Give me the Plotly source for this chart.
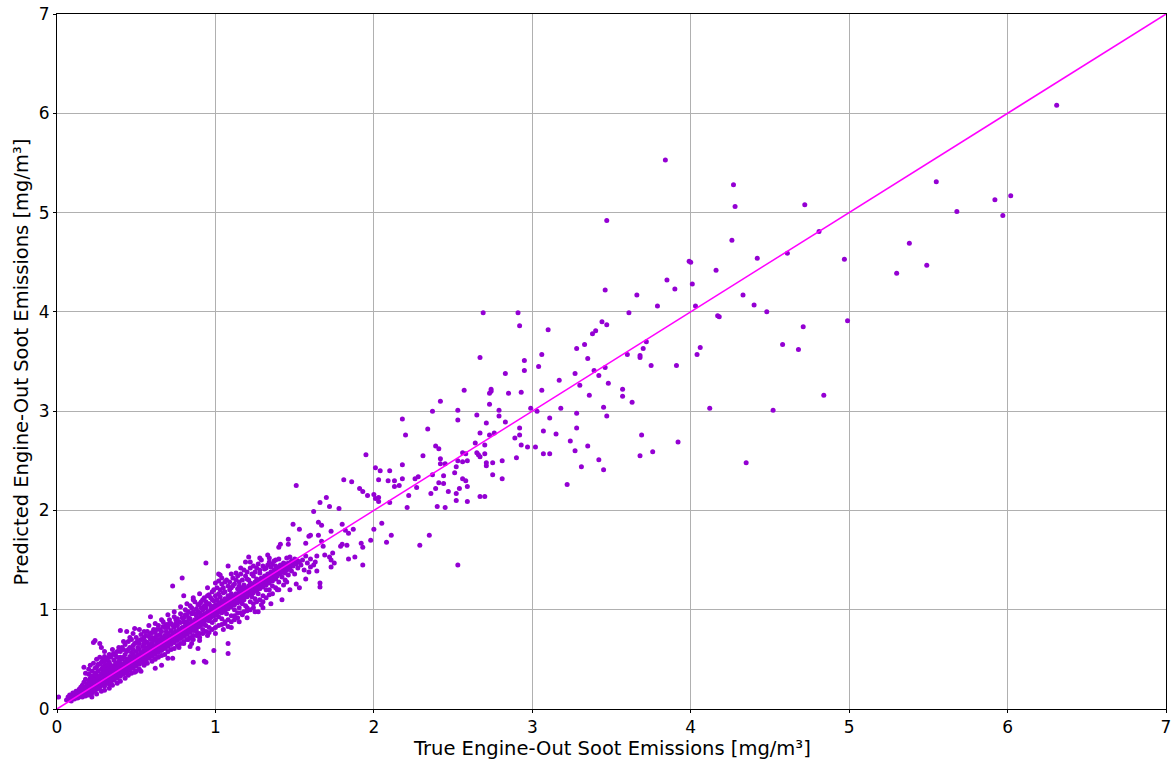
import plotly.graph_objects as go

# (true, predicted) soot emissions [mg/m3]
pts_tip = [(0.01,0.12),(0.06,0.09),(0.07,0.12),(0.08,0.10),(0.08,0.14),(0.09,0.08),(0.10,0.12),(0.10,0.16),(0.11,0.10),(0.11,0.14),(0.12,0.13),(0.12,0.18),(0.13,0.11),(0.13,0.15),(0.14,0.12),(0.14,0.17),(0.14,0.20),(0.15,0.13),(0.15,0.16),(0.15,0.22),
 (0.16,0.12),(0.16,0.18),(0.16,0.24),(0.17,0.14),(0.17,0.20),(0.17,0.27),(0.17,0.42),(0.18,0.13),(0.18,0.16),(0.18,0.22),(0.18,0.30),(0.19,0.15),(0.19,0.19),(0.19,0.25),(0.20,0.14),(0.20,0.18),(0.20,0.23),(0.20,0.28),(0.20,0.35),(0.21,0.17),(0.21,0.21),(0.21,0.26),(0.21,0.31),(0.22,0.16),(0.22,0.20),(0.22,0.24),(0.22,0.29),(0.22,0.38),(0.23,0.18),(0.23,0.22),(0.23,0.27),(0.23,0.33),(0.23,0.67),(0.24,0.19),(0.24,0.25),(0.24,0.30),(0.24,0.36),(0.24,0.69),(0.25,0.20),(0.25,0.23),(0.25,0.28),(0.25,0.34),(0.25,0.42),(0.26,0.21),(0.26,0.26),(0.26,0.31),(0.26,0.38),(0.27,0.22),(0.27,0.27),(0.27,0.33),(0.27,0.45),(0.27,0.66),(0.28,0.24),(0.28,0.29),(0.28,0.35),(0.28,0.40),(0.28,0.62),(0.29,0.25),(0.29,0.30),(0.29,0.37),(0.29,0.50),(0.30,0.23),(0.30,0.28),(0.30,0.33),(0.30,0.39),(0.30,0.44),(0.30,0.58)]

pts_low = [(0.31,0.26),(0.31,0.31),(0.31,0.36),(0.31,0.42),(0.32,0.27),(0.32,0.32),(0.32,0.38),(0.32,0.51),(0.33,0.25),(0.33,0.30),(0.33,0.35),(0.33,0.41),(0.33,0.47),(0.34,0.28),(0.34,0.33),(0.34,0.39),(0.34,0.44),(0.35,0.30),(0.35,0.36),(0.35,0.40),(0.35,0.55),(0.36,0.29),(0.36,0.34),(0.36,0.38),(0.36,0.43),(0.36,0.49),(0.37,0.32),(0.37,0.37),(0.37,0.42),(0.37,0.46),(0.38,0.31),(0.38,0.35),(0.38,0.40),(0.38,0.45),(0.38,0.52),(0.39,0.34),(0.39,0.38),(0.39,0.43),(0.39,0.48),(0.40,0.33),(0.40,0.37),(0.40,0.41),(0.40,0.46),(0.40,0.58),(0.40,0.79),(0.41,0.36),(0.41,0.40),(0.41,0.44),(0.41,0.50),(0.42,0.35),(0.42,0.39),(0.42,0.45),(0.42,0.52),(0.43,0.38),(0.43,0.42),(0.43,0.47),(0.43,0.55),(0.44,0.37),(0.44,0.41),(0.44,0.46),(0.44,0.50),(0.44,0.78),(0.45,0.40),(0.45,0.44),(0.45,0.49),(0.45,0.60),(0.46,0.39),(0.46,0.43),(0.46,0.48),(0.46,0.53),(0.47,0.42),(0.47,0.46),(0.47,0.51),(0.47,0.57),(0.48,0.41),(0.48,0.45),(0.48,0.50),(0.48,0.55),(0.48,0.64),(0.49,0.44),(0.49,0.48),(0.49,0.53),(0.49,0.81),(0.50,0.43),(0.50,0.47),(0.50,0.52),(0.50,0.58),(0.50,0.67),
 (0.51,0.46),(0.51,0.50),(0.51,0.55),(0.51,0.62),(0.52,0.45),(0.52,0.49),(0.52,0.54),(0.52,0.60),(0.53,0.38),(0.53,0.48),(0.53,0.52),(0.53,0.57),(0.53,0.70),(0.54,0.47),(0.54,0.51),(0.54,0.56),(0.54,0.63),(0.55,0.50),(0.55,0.54),(0.55,0.59),(0.55,0.66),(0.56,0.49),(0.56,0.53),(0.56,0.58),(0.56,0.62),(0.56,0.74),(0.57,0.52),(0.57,0.56),(0.57,0.61),(0.57,0.67),(0.58,0.51),(0.58,0.55),(0.58,0.60),(0.58,0.65),(0.59,0.54),(0.59,0.58),(0.59,0.63),(0.59,0.70),(0.59,0.93),(0.60,0.53),(0.60,0.57),(0.60,0.62),(0.60,0.66),(0.60,0.77),(0.61,0.56),(0.61,0.60),(0.61,0.64),(0.61,0.69),(0.62,0.41),(0.62,0.55),(0.62,0.59),(0.62,0.63),(0.62,0.72),(0.63,0.58),(0.63,0.62),(0.63,0.67),(0.63,0.80),(0.64,0.57),(0.64,0.61),(0.64,0.65),(0.64,0.70),(0.65,0.60),(0.65,0.64),(0.65,0.68),(0.65,0.75),(0.66,0.44),(0.66,0.59),(0.66,0.63),(0.66,0.67),(0.66,0.72),(0.67,0.62),(0.67,0.66),(0.67,0.71),(0.67,0.83),(0.68,0.61),(0.68,0.65),(0.68,0.69),(0.68,0.74),(0.69,0.64),(0.69,0.68),(0.69,0.73),(0.69,0.78),(0.70,0.51),(0.70,0.63),(0.70,0.67),(0.70,0.71),(0.70,0.76),(0.71,0.66),(0.71,0.70),(0.71,0.74),(0.71,0.86),(0.72,0.65),(0.72,0.69),(0.72,0.73),(0.72,0.79),(0.73,0.51),(0.73,0.68),(0.73,0.72),(0.73,0.77),(0.73,1.24),(0.74,0.67),(0.74,0.71),(0.74,0.75),(0.74,0.82),(0.75,0.70),(0.75,0.74),(0.75,0.78),(0.75,0.90)]

pts_mid = [(0.76,0.69),(0.76,0.73),(0.76,0.77),(0.76,0.84),(0.77,0.62),(0.77,0.72),(0.77,0.76),(0.77,0.80),(0.78,0.71),(0.78,0.75),(0.78,0.79),(0.78,0.87),(0.79,0.74),(0.79,0.78),(0.79,0.82),(0.79,1.32),(0.80,0.66),(0.80,0.73),(0.80,0.77),(0.80,0.81),(0.80,0.92),(0.80,1.14),(0.81,0.76),(0.81,0.80),(0.81,0.84),(0.81,0.95),(0.82,0.75),(0.82,0.79),(0.82,0.83),(0.82,0.88),(0.83,0.70),(0.83,0.78),(0.83,0.82),(0.83,0.86),(0.83,0.98),(0.84,0.63),(0.84,0.77),(0.84,0.81),(0.84,0.85),(0.84,0.91),(0.85,0.80),(0.85,0.84),(0.85,0.88),(0.85,1.02),(0.86,0.47),(0.86,0.74),(0.86,0.79),(0.86,0.83),(0.86,0.87),(0.86,1.10),(0.87,0.82),(0.87,0.86),(0.87,0.90),(0.87,0.96),(0.88,0.78),(0.88,0.81),(0.88,0.85),(0.88,0.89),(0.88,0.94),(0.89,0.61),(0.89,0.84),(0.89,0.88),(0.89,0.92),(0.89,1.05),(0.90,0.76),(0.90,0.83),(0.90,0.87),(0.90,0.91),(0.90,0.97),(0.91,0.86),(0.91,0.90),(0.91,0.94),(0.91,1.08),(0.92,0.80),(0.92,0.85),(0.92,0.89),(0.92,0.93),(0.92,1.00),(0.93,0.48),(0.93,0.88),(0.93,0.92),(0.93,0.96),(0.93,1.12),(0.94,0.47),(0.94,0.84),(0.94,0.91),(0.94,0.95),(0.94,1.02),(0.94,1.47),(0.95,0.90),(0.95,0.94),(0.95,0.98),(0.95,1.06),(0.96,0.82),(0.96,0.89),(0.96,0.93),(0.96,0.97),(0.96,1.15),(0.97,0.92),(0.97,0.96),(0.97,1.00),(0.97,1.04),(0.98,0.87),(0.98,0.95),(0.98,0.99),(0.98,1.03),(0.98,1.10),(0.99,0.59),(0.99,0.94),(0.99,0.98),(0.99,1.02),(0.99,1.20),(1.00,0.90),(1.00,0.97),(1.00,1.01),(1.00,1.05),
 (1.01,0.95),(1.01,1.00),(1.01,1.04),(1.01,1.10),(1.02,0.93),(1.02,0.99),(1.02,1.03),(1.02,1.07),(1.02,1.29),(1.02,1.36),(1.03,0.98),(1.03,1.02),(1.03,1.06),(1.03,1.13),(1.03,1.35),(1.04,0.91),(1.04,0.97),(1.04,1.01),(1.04,1.05),(1.04,1.09),(1.05,1.00),(1.05,1.04),(1.05,1.08),(1.05,1.17),(1.06,0.86),(1.06,0.99),(1.06,1.03),(1.06,1.07),(1.06,1.11),(1.06,1.28),(1.07,0.96),(1.07,1.02),(1.07,1.06),(1.07,1.10),(1.08,0.56),(1.08,0.66),(1.08,0.83),(1.08,1.01),(1.08,1.05),(1.08,1.09),(1.08,1.14),(1.08,1.44),(1.09,1.04),(1.09,1.08),(1.09,1.12),(1.09,1.20),(1.10,0.94),(1.10,1.03),(1.10,1.07),(1.10,1.11),(1.10,1.16),(1.11,1.06),(1.11,1.10),(1.11,1.14),(1.11,1.24),(1.12,0.90),(1.12,1.00),(1.12,1.05),(1.12,1.09),(1.12,1.13),(1.13,1.08),(1.13,1.12),(1.13,1.16),(1.13,1.37),(1.14,0.97),(1.14,1.07),(1.14,1.11),(1.14,1.15),(1.14,1.21),(1.15,1.02),(1.15,1.10),(1.15,1.14),(1.15,1.18),(1.15,1.28),(1.16,1.09),(1.16,1.13),(1.16,1.17),(1.16,1.22),(1.17,0.95),(1.17,1.06),(1.17,1.12),(1.17,1.16),(1.17,1.20),(1.18,1.10),(1.18,1.15),(1.18,1.19),(1.18,1.25),(1.19,1.04),(1.19,1.14),(1.19,1.18),(1.19,1.22),(1.19,1.48),(1.20,0.99),(1.20,1.13),(1.20,1.17),(1.20,1.21),(1.20,1.31),(1.21,1.16),(1.21,1.20),(1.21,1.24),(1.21,1.53),(1.22,1.08),(1.22,1.15),(1.22,1.19),(1.22,1.23),(1.22,1.27),(1.23,1.13),(1.23,1.18),(1.23,1.22),(1.23,1.26),(1.24,1.02),(1.24,1.17),(1.24,1.21),(1.24,1.25),(1.24,1.34),(1.25,1.11),(1.25,1.20),(1.25,1.24),(1.25,1.28),(1.26,1.19),(1.26,1.23),(1.26,1.27),(1.26,1.31),(1.27,0.98),(1.27,1.16),(1.27,1.22),(1.27,1.26),(1.27,1.30),(1.28,1.21),(1.28,1.25),(1.28,1.29),(1.28,1.37),(1.29,1.05),(1.29,1.24),(1.29,1.28),(1.29,1.32),(1.29,1.50),(1.30,1.14),(1.30,1.23),(1.30,1.27),(1.30,1.31)]

pts_spread = [(0.18,0.36),(0.20,0.40),(0.21,0.44),(0.22,0.33),(0.23,0.46),(0.24,0.41),(0.25,0.50),(0.26,0.45),(0.27,0.52),(0.28,0.47),(0.29,0.42),(0.30,0.53),(0.31,0.50),(0.33,0.55),(0.35,0.60),(0.37,0.54),(0.39,0.62),(0.42,0.68),(0.46,0.72),(0.48,0.76),(0.52,0.80),(0.55,0.78),(0.58,0.84),(0.62,0.86),(0.66,0.90),(0.70,0.95),(0.74,0.98),(0.78,1.03),(0.82,1.06),(0.86,1.12),(0.90,1.16),(0.95,1.22),(1.00,1.27),(1.04,1.32),(1.10,1.36),(1.16,1.42),(1.22,1.48),(1.28,1.52),(1.33,1.55),
 (0.30,0.48),(0.32,0.45),(0.34,0.52),(0.36,0.56),(0.38,0.58),(0.40,0.52),(0.41,0.62),(0.42,0.60),(0.43,0.65),(0.44,0.58),(0.45,0.68),(0.46,0.62),(0.47,0.70),(0.48,0.60),(0.49,0.66),(0.50,0.72),(0.51,0.69),(0.52,0.66),(0.53,0.75),(0.54,0.70),(0.55,0.72),(0.56,0.68),(0.57,0.78),(0.58,0.73),(0.59,0.76),(0.60,0.72),(0.61,0.80),(0.62,0.77),(0.63,0.74),(0.64,0.84),(0.65,0.80),(0.66,0.78),(0.67,0.88),(0.68,0.82),(0.69,0.85),(0.70,0.82),(0.71,0.90),(0.72,0.86),(0.73,0.84),(0.74,0.93),(0.75,0.86),(0.76,0.91),(0.77,0.88),(0.78,0.96),(0.79,0.92),(0.80,0.88),(0.81,1.00),(0.82,0.95),(0.83,0.92),(0.84,1.04),(0.85,0.96),(0.86,0.98),(0.87,1.08),(0.88,1.01),(0.89,0.98),(0.90,1.06),(0.91,1.02),(0.92,1.10),(0.93,1.04),(0.94,1.08),(0.95,1.14),(0.96,1.06),(0.97,1.12),(0.98,1.18),(0.99,1.09),(1.00,1.14),(1.01,1.22),(1.02,1.16),(1.03,1.20),(1.04,1.26),(1.05,1.22),(1.06,1.18),(1.07,1.30),(1.08,1.24),(1.09,1.28),(1.10,1.22),(1.11,1.32),(1.12,1.26),(1.13,1.30),(1.14,1.34),(1.15,1.24),(1.16,1.36),(1.17,1.30),(1.18,1.40),(1.19,1.34),(1.20,1.38),(1.21,1.30),(1.22,1.42),(1.23,1.36),(1.24,1.44),(1.25,1.38),(1.26,1.42),(1.27,1.46),(1.28,1.40),(1.30,1.44),(1.32,1.42),(1.34,1.52),(1.36,1.46),(1.38,1.50),
 (0.22,0.12),(0.25,0.15),(0.28,0.18),(0.30,0.19),(0.33,0.21),(0.35,0.24),(0.38,0.26),(0.40,0.28),(0.43,0.31),(0.45,0.34),(0.47,0.36),(0.49,0.37),
 (0.50,0.38),(0.52,0.40),(0.55,0.44),(0.57,0.46),(0.60,0.48),(0.62,0.50),(0.64,0.52),(0.66,0.54),(0.68,0.55),(0.70,0.58),(0.72,0.60),(0.74,0.61),(0.76,0.64),(0.78,0.66),(0.80,0.68),(0.82,0.70),(0.84,0.72),(0.86,0.70),(0.88,0.74),(0.90,0.72),(0.92,0.76),(0.94,0.78),(0.96,0.77),(0.98,0.80),(1.00,0.82),(1.02,0.84),(1.04,0.85),(1.06,0.88),(1.08,0.90),(1.10,0.88),(1.12,0.94),(1.14,0.92),(1.16,0.97),(1.18,0.98),(1.20,1.02),(1.22,1.00),(1.24,1.06),(1.26,1.08),(1.28,1.10),(1.30,1.08),(1.32,1.12),(1.34,1.20),(1.36,1.16),(1.38,1.22),(1.40,1.20),(1.43,1.25),(1.45,1.28),
 (0.85,0.66),(0.90,0.69),(0.95,0.74),(1.00,0.76),(1.05,0.80),(1.10,0.82),(1.15,0.88),(1.20,0.92),(1.25,0.98),(1.30,1.02),(1.35,1.06)]

pts_upper = [(1.31,1.26),(1.31,1.30),(1.31,1.34),(1.31,1.41),(1.32,1.20),(1.32,1.25),(1.32,1.29),(1.32,1.33),(1.33,1.28),(1.33,1.32),(1.33,1.36),(1.33,1.45),(1.34,1.15),(1.34,1.27),(1.34,1.31),(1.34,1.35),(1.34,1.48),(1.35,1.30),(1.35,1.34),(1.35,1.38),(1.35,1.43),(1.36,1.24),(1.36,1.29),(1.36,1.33),(1.36,1.37),(1.37,1.32),(1.37,1.36),(1.37,1.40),(1.37,1.49),(1.38,1.31),(1.38,1.35),(1.38,1.39),(1.38,1.44),(1.39,1.20),(1.39,1.34),(1.39,1.38),(1.39,1.42),(1.40,1.28),(1.40,1.37),(1.40,1.41),(1.40,1.51),(1.40,1.63),(1.41,1.36),(1.41,1.40),(1.41,1.45),(1.41,1.66),(1.42,1.10),(1.42,1.33),(1.42,1.39),(1.42,1.43),(1.43,1.38),(1.43,1.42),(1.43,1.47),(1.44,1.30),(1.44,1.37),(1.44,1.41),(1.44,1.46),(1.45,1.40),(1.45,1.44),(1.45,1.52),(1.46,1.35),(1.46,1.43),(1.46,1.47),(1.46,1.66),(1.46,1.71),(1.47,1.20),(1.47,1.42),(1.47,1.46),(1.47,1.53),(1.48,1.39),(1.48,1.45),(1.48,1.49),(1.49,1.44),(1.49,1.48),(1.49,1.86),(1.50,1.36),(1.50,1.47),(1.50,1.51),(1.51,2.25),(1.51,1.46),(1.51,1.50),(1.51,1.26),(1.52,1.42),(1.52,1.49),(1.53,1.22),(1.53,1.48),(1.53,1.81),(1.54,1.45),(1.55,1.50),(1.56,1.40),(1.57,1.54),(1.57,1.67),(1.57,1.31),(1.58,1.47),(1.59,1.74),(1.59,1.38),(1.60,1.43),(1.60,1.51),(1.60,1.75),(1.62,1.45),(1.62,1.99),(1.63,1.48),(1.64,1.39),(1.64,1.54),(1.65,1.75),(1.65,1.88),(1.66,1.27),(1.66,1.23),(1.67,1.85),(1.67,1.69),(1.68,1.64),(1.69,1.55),(1.70,2.13),(1.66,2.08),(1.72,2.04),(1.72,1.53),(1.73,1.79),(1.73,1.50),(1.73,1.43),(1.74,1.57),(1.75,1.47),(1.78,2.02),(1.79,1.64),(1.80,1.86),(1.80,1.66),(1.81,2.31),(1.82,1.80),(1.83,1.65),(1.84,1.77),(1.84,1.51),(1.86,2.29),(1.87,1.81),(1.88,1.53),(1.91,2.22),(1.92,1.67),(1.93,2.19),(1.93,1.63),(1.93,1.45),(1.95,2.56),(1.96,2.15),(1.98,1.70),(2.00,1.81),(2.00,2.16),(2.01,2.12),(2.03,2.13),(2.03,2.09),(2.05,1.87),(2.08,1.68),(2.10,2.08),(2.11,1.75),(2.21,2.03),(2.29,1.65),(2.35,1.75),(2.53,1.45)]

pts_high = [(2.01,2.43),(2.04,2.40),(2.10,2.40),(2.03,2.31),(2.09,2.30),(2.13,2.30),(2.18,2.32),(2.26,2.32),(2.28,2.34),(2.13,2.24),(2.16,2.25),(2.27,2.23),(2.39,2.22),(2.54,2.22),(2.41,2.28),(2.44,2.27),(2.56,2.32),(2.58,2.30),(2.59,2.24),(2.81,2.32),(3.22,2.26),(2.36,2.17),(2.47,2.19),(2.40,2.04),(2.45,2.03),(2.52,2.10),(2.52,2.17),(2.59,2.09),(2.67,2.14),(2.70,2.14),(2.22,2.15),
 (2.37,2.36),(2.44,2.35),(2.51,2.38),(2.52,2.44),(2.75,2.36),(3.31,2.44),(3.45,2.41),(2.18,2.46),(2.42,2.47),(2.45,2.47),(2.71,2.48),(2.71,2.45),(2.75,2.48),(3.42,2.51),(4.35,2.48),(2.53,2.50),(2.56,2.49),(2.59,2.50),(2.81,2.50),(2.42,2.52),(2.90,2.53),(2.31,2.55),(2.56,2.58),(2.58,2.57),(2.65,2.58),(2.66,2.56),(2.67,2.54),(2.70,2.57),(3.07,2.57),(3.11,2.57),(3.68,2.55),(3.76,2.59),(3.27,2.60),(2.39,2.65),(2.41,2.62),(2.64,2.68),(2.70,2.66),(2.93,2.66),(2.97,2.64),(3.02,2.64),(3.35,2.65),(3.92,2.69),(3.24,2.70),(2.89,2.73),(2.20,2.76),(2.67,2.78),(2.73,2.76),(2.76,2.78),(2.92,2.76),(3.07,2.80),(3.15,2.77),(3.69,2.76),(2.34,2.82),(2.92,2.83),(3.28,2.83),(2.18,2.92),(2.53,2.91),(2.71,2.88),(2.83,2.89),(3.11,2.93),(2.65,2.96),(2.79,2.95),(2.79,3.01),(3.28,2.98),(3.47,2.95),(2.37,3.00),(2.53,3.01),(2.99,3.03),(3.03,3.00),(3.18,3.03),(3.45,3.04),(4.12,3.03),(4.52,3.01),(2.42,3.10),(2.73,3.07),(3.63,3.09),(3.36,3.16),(3.57,3.15),(4.84,3.16),(2.57,3.21),(2.74,3.22),(2.74,3.20),(2.73,3.18),(2.85,3.18),(2.93,3.19),(3.06,3.21),(3.57,3.22),
 (3.30,3.26),(3.48,3.28),(3.17,3.31),(2.83,3.38),(3.27,3.38),(3.42,3.36),(2.95,3.41),(3.04,3.45),(3.39,3.41),(3.46,3.44),(3.75,3.46),(3.91,3.46),(2.95,3.51),(3.35,3.53),(3.68,3.54),(3.68,3.56),(2.67,3.54),(3.06,3.57),(3.60,3.57),(4.04,3.57),(3.28,3.63),(3.70,3.63),(4.06,3.64),(3.33,3.67),(3.72,3.70),(4.58,3.67),(4.68,3.62),(3.38,3.78),(3.40,3.81),(3.10,3.82),(4.71,3.85),(2.92,3.86),(3.44,3.90),(3.47,3.87),(4.99,3.91),(2.69,3.99),(2.91,3.99),(3.61,3.99),(4.17,3.96),(4.18,3.95),(4.48,4.00),(3.79,4.06),(4.03,4.06),(4.40,4.07),(3.66,4.17),(4.33,4.17),(3.46,4.22),(3.90,4.23),(4.01,4.28),(3.85,4.32),(4.16,4.42),(5.30,4.39),(5.49,4.47),(3.99,4.51),(4.00,4.50),(4.42,4.54),(4.97,4.53),(4.61,4.59),(5.38,4.69),(4.26,4.72),(4.81,4.81),(3.47,4.92),(5.97,4.97),(5.68,5.01),(4.28,5.06),(4.72,5.08),(5.92,5.13),(6.02,5.17),(4.27,5.28),(5.55,5.31),(3.84,5.53),(6.31,6.08)]

groups = (pts_tip, pts_low, pts_spread, pts_mid, pts_upper, pts_high)
true_vals = [p[0] for grp in groups for p in grp]
pred_vals = [p[1] for grp in groups for p in grp]

identity = [0, 7]
tick_vals = [0, 1, 2, 3, 4, 5, 6, 7]
x_title = "True Engine-Out Soot Emissions [mg/m³]"
y_title = "Predicted Engine-Out Soot Emissions [mg/m³]"

fig = go.Figure()
fig.add_trace(go.Scatter(x=true_vals, y=pred_vals, mode="markers",
                         marker=dict(color="#9400D3", size=5, line=dict(width=0)),
                         showlegend=False))
fig.add_trace(go.Scatter(x=identity, y=identity, mode="lines",
                         line=dict(color="#FF00FF", width=1.5), showlegend=False))

axis_common = dict(range=[0, 7], tickvals=tick_vals, ticks="outside", ticklen=3,
                   tickwidth=1, tickcolor="#000", showline=True, linecolor="#000",
                   linewidth=1, mirror=True, showgrid=True, gridcolor="#b0b0b0",
                   gridwidth=0.8, zeroline=False, automargin=False,
                   ticklabeloverflow="allow",
                   tickfont=dict(family="DejaVu Sans", size=17, color="#000"))

title_font = dict(family="DejaVu Sans", size=19.5, color="#000")
fig.update_layout(
    width=1171, height=760,
    margin=dict(l=57, r=5, t=14, b=51),
    paper_bgcolor="white", plot_bgcolor="white",
    xaxis=axis_common,
    yaxis=axis_common,
    annotations=[
        dict(text=x_title, xref="paper", yref="paper", x=0.5, y=-0.0568,
             xanchor="center", yanchor="middle", showarrow=False, font=title_font),
        dict(text=y_title, xref="paper", yref="paper", x=-0.0316, y=0.5,
             xanchor="center", yanchor="middle", textangle=-90, showarrow=False,
             font=title_font),
    ],
)

fig.write_html("out.html")
